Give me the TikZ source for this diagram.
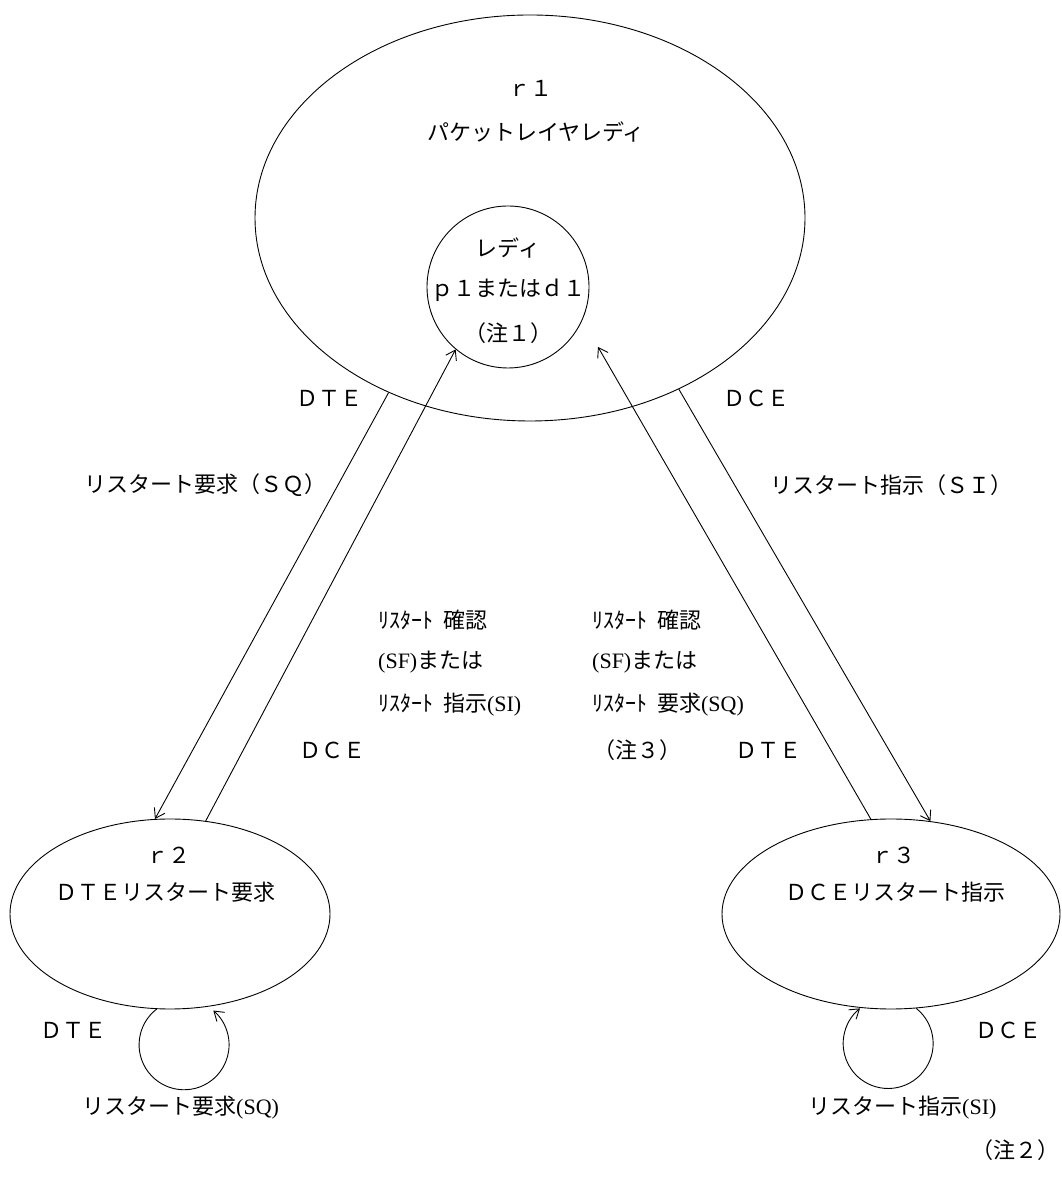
\documentclass[tikz,border=0pt]{standalone}
\usepackage{fontspec}
\setmainfont{Liberation Serif}
\newfontfamily\jp{Noto Sans CJK JP}
\newfontfamily\lat{Liberation Serif}
\usetikzlibrary{shapes.geometric,arrows.meta,calc}
\begin{document}
\begin{tikzpicture}[x=1pt,y=1pt,
  lbl/.style={font=\jp\fontsize{22}{26}\selectfont, inner sep=0pt},
  st/.style={draw, ellipse, line width=0.9pt, inner sep=0pt},
  arr/.style={line width=0.9pt, -{Straight Barb[length=9pt,width=12pt]}},
  lp/.style={line width=0.9pt}]
\useasboundingbox (0,0) rectangle (1061,1202);
% states
\node[st, minimum width=550pt, minimum height=406pt] (r1) at (530,984) {};
\node[st, circle, minimum size=162pt] (rdy) at (508,915) {};
\node[st, minimum width=320pt, minimum height=190pt] (r2) at (170,288) {};
\node[st, minimum width=338pt, minimum height=190pt] (r3) at (891,288) {};
\coordinate (rin) at (598,855);
% texts in states
\node[lbl] (t1a) at (530,1114) {ｒ１};
\node[lbl] (t1b) at (536,1070) {パケットレイヤレディ};
\node[lbl] (tra) at (508,954) {レディ};
\node[lbl] (trb) at (508,912) {ｐ１またはｄ１};
\node[lbl] (trc) at (508,869) {（注１）};
\node[lbl] (t2a) at (168,347) {ｒ２};
\node[lbl] (t2b) at (165,310) {ＤＴＥリスタート要求};
\node[lbl] (t3a) at (893,347) {ｒ３};
\node[lbl] (t3b) at (895,310) {ＤＣＥリスタート指示};
% connectors
\draw[arr] (r1.231.3) -- (r2.99.3);
\draw[arr] (r2.69.7) -- (rdy.230.3);
\draw[arr] (r3.102.3) -- (rin);
\draw[arr] (r1.311.2) -- (r3.67);
\draw[lp, -{Straight Barb[length=9pt,width=12pt]}] (r2.262.1) arc[start angle=127.6, end angle=409.5, radius=45];
\draw[lp, -{Straight Barb[length=9pt,width=12pt]}] (r3.285.9) arc[start angle=51.3, end angle=-231.3, radius=45];
% edge labels
\node[lbl] (l1) at (329,804) {ＤＴＥ};
\node[lbl] (l2) at (205,717) {リスタート要求（ＳＱ）};
\node[lbl] (l3) at (756,804) {ＤＣＥ};
\node[lbl, anchor=west] (l4) at (770,717) {リスタート指示（ＳＩ）};
\node[lbl, anchor=west] (m1) at (378,582) {ﾘｽﾀｰﾄ\hspace{0.45em}確認};
\node[lbl, anchor=west] (m2) at (378,540) {{\lat (SF)}または};
\node[lbl, anchor=west] (m3) at (378,497) {ﾘｽﾀｰﾄ\hspace{0.45em}指示{\lat (SI)}};
\node[lbl, anchor=west] (n1) at (592,582) {ﾘｽﾀｰﾄ\hspace{0.45em}確認};
\node[lbl, anchor=west] (n2) at (592,540) {{\lat (SF)}または};
\node[lbl, anchor=west] (n3) at (592,497) {ﾘｽﾀｰﾄ\hspace{0.45em}要求{\lat (SQ)}};
\node[lbl] (n4) at (637,452) {（注３）};
\node[lbl] (l5) at (768,452) {ＤＴＥ};
\node[lbl] (l6) at (332,452) {ＤＣＥ};
\node[lbl] (l7) at (73,172) {ＤＴＥ};
\node[lbl] (l8) at (1008,172) {ＤＣＥ};
\node[lbl, anchor=west] (l9) at (82,94) {リスタート要求{\lat (SQ)}};
\node[lbl, anchor=west] (l10) at (808,94) {リスタート指示{\lat (SI)}};
\node[lbl] (l11) at (1015,52) {（注２）};
\end{tikzpicture}
\end{document}
